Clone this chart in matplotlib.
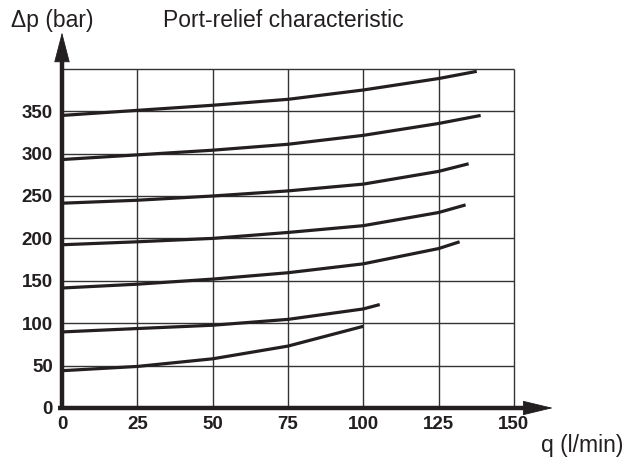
import matplotlib
matplotlib.use("Agg")
import matplotlib.pyplot as plt

# ---- data ----
x_ticks = [0, 25, 50, 75, 100, 125, 150]
y_ticks = [0, 50, 100, 150, 200, 250, 300, 350]

c1_q = [0, 25, 50, 75, 100, 125, 137.7]
c1_p = [345, 351, 357, 364, 375, 388.5, 397]
c2_q = [0, 25, 50, 75, 100, 125, 139]
c2_p = [293, 298.5, 304, 311, 321.5, 335.5, 345]
c3_q = [0, 25, 50, 75, 100, 125, 135]
c3_p = [241.5, 245, 250, 256, 264, 279, 288]
c4_q = [0, 25, 50, 75, 100, 125, 134]
c4_p = [192.5, 196, 200, 207, 215, 230.5, 239.5]
c5_q = [0, 25, 50, 75, 100, 125, 132]
c5_p = [141.5, 146, 152, 159.5, 170, 188, 196]
c6_q = [0, 25, 50, 75, 100, 105.5]
c6_p = [89.7, 93.7, 97.6, 104.5, 116.8, 122]
c7_q = [0, 25, 50, 75, 100]
c7_p = [44, 49, 58, 73, 96.3]

curves = [(c1_q, c1_p), (c2_q, c2_p), (c3_q, c3_p), (c4_q, c4_p),
          (c5_q, c5_p), (c6_q, c6_p), (c7_q, c7_p)]

title = "Port-relief characteristic"
ylabel = "\u0394p (bar)"
xlabel = "q (l/min)"

INK = "#231f20"
plt.rcParams['font.family'] = ['Liberation Sans', 'DejaVu Sans']

W, H = 632, 463
fig = plt.figure(figsize=(W / 100, H / 100), dpi=100)
x0_px, y0_px = 62, 408
px_per_q = 75.3 / 25
px_per_p = 42.4 / 50
xmax, ymax = 165, 445
ax = fig.add_axes([x0_px / W, (H - y0_px) / H,
                   xmax * px_per_q / W, ymax * px_per_p / H])
ax.set_xlim(0, xmax)
ax.set_ylim(0, ymax)
for s in ax.spines.values():
    s.set_visible(False)
ax.patch.set_alpha(0)

# grid
grid_top = 400
grid_right = 150
ax.hlines([50, 100, 150, 200, 250, 300, 350, 400], 0, grid_right,
          color="#333333", lw=1.0, zorder=1)
ax.vlines([25, 50, 75, 100, 125, 150], 0, grid_top,
          color="#333333", lw=1.0, zorder=1)

# curves
for q, p in curves:
    ax.plot(q, p, color=INK, lw=2.3, solid_capstyle='butt',
            solid_joinstyle='round', zorder=3)

# axes lines with arrow heads
ax.plot([0, 0], [-2.5, 420], color=INK, lw=3.2, solid_capstyle='butt', zorder=4, clip_on=False)
ax.plot([-1.3, 155], [0, 0], color=INK, lw=3.2, solid_capstyle='butt', zorder=4, clip_on=False)
ax.annotate('', xy=(0, 443), xytext=(0, 405),
            arrowprops=dict(arrowstyle='-|>,head_length=2.0,head_width=0.52',
                            mutation_scale=10, lw=0.6, color=INK,
                            shrinkA=0, shrinkB=0), zorder=5)
ax.annotate('', xy=(163, 0), xytext=(148, 0),
            arrowprops=dict(arrowstyle='-|>,head_length=2.0,head_width=0.48',
                            mutation_scale=10, lw=0.6, color=INK,
                            shrinkA=0, shrinkB=0), zorder=5)

# ticks
ax.set_xticks(x_ticks)
ax.set_xticklabels([str(v) for v in x_ticks], fontsize=13.5, fontweight='bold', color=INK)
ax.set_yticks(y_ticks)
ax.set_yticklabels([str(v) for v in y_ticks], fontsize=13.5, fontweight='bold', color=INK)
ax.tick_params(axis='both', length=0)
ax.tick_params(axis='x', pad=6)
ax.tick_params(axis='y', pad=6.5)

# texts
fig.text(11 / W, 1 - 27 / H, ylabel, fontsize=16.5, color=INK, va='baseline', ha='left')
fig.text(163 / W, 1 - 27 / H, title, fontsize=16.5, color=INK, va='baseline', ha='left')
fig.text(623 / W, 1 - 452 / H, xlabel, fontsize=16.5, color=INK, va='baseline', ha='right')

fig.savefig("out.png", dpi=100)
